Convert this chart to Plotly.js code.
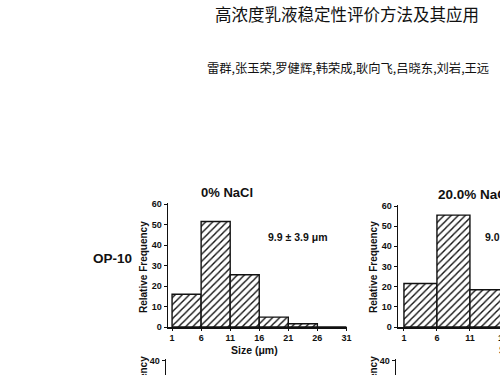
<!DOCTYPE html>
<html>
<head>
<meta charset="utf-8">
<script src="https://cdn.plot.ly/plotly-3.0.1.min.js"></script>
<style>
html,body{margin:0;padding:0;overflow:hidden;background:#fff;width:500px;height:375px;}
#chart{width:540px;height:420px;}
</style>
</head>
<body>
<div id="chart"></div>
<script>
// ---- data ----
const binStarts0 = [1, 6, 11, 16, 21, 26];           // size bins (µm), left edges
const freq0 = [16, 51.5, 25.5, 4.8, 1.6, 0];          // 0% NaCl, OP-10
const binStarts20 = [1, 6, 11];                      // visible bins, 20% NaCl
const freq20 = [21.6, 55.5, 18.5];                   // 20.0% NaCl, OP-10
const xTicks = [1, 6, 11, 16, 21, 26, 31];
const yTicks = [0, 10, 20, 30, 40, 50, 60];
const yTicksLower = [0, 10, 20, 30, 40];
const mainTitle = "高浓度乳液稳定性评价方法及其应用";
const authors = "雷群,张玉荣,罗健辉,韩荣成,耿向飞,吕晓东,刘岩,王远";
const panelTitles = ["0% NaCl", "20.0% NaCl"];
const meanLabels = ["9.9 ± 3.9 μm", "9.0 ± 3.6 μm"];
const rowLabel = "OP-10";

// ---- layout helpers (pixel -> paper) ----
const W = 540, H = 420;
const px = v => v / W;
const py = v => 1 - v / H;

const FONT = "Liberation Sans, Arial, sans-serif";
const tickFont = {family: FONT, size: 9, color: "#111", weight: "bold"};
const hatch = {shape: "/", fgcolor: "#111", bgcolor: "#fff", size: 5, solidity: 0.28};

function bars(x, y, xa, ya) {
  return {
    type: "bar", x: x, y: y, width: 5, offset: 0,
    xaxis: xa, yaxis: ya,
    marker: {color: "#fff", pattern: hatch, line: {color: "#111", width: 1.4}},
    hoverinfo: "skip", showlegend: false
  };
}

const traces = [
  bars(binStarts0, freq0, "x", "y"),
  bars(binStarts20, freq20, "x2", "y2"),
  {type: "bar", x: [], y: [], xaxis: "x3", yaxis: "y3", showlegend: false},
  {type: "bar", x: [], y: [], xaxis: "x4", yaxis: "y4", showlegend: false}
];

function xAxis(domain, range, anchor, visible) {
  return {
    domain: domain, range: range, anchor: anchor, visible: visible,
    tickmode: "array", tickvals: xTicks, ticktext: xTicks.map(String),
    showline: true, linecolor: "#111", linewidth: 1.5,
    ticks: "outside", ticklen: 2, tickwidth: 1, tickcolor: "#111",
    showgrid: false, zeroline: false, tickfont: tickFont, fixedrange: true
  };
}
function yAxis(domain, range, anchor, vals) {
  return {
    domain: domain, range: range, anchor: anchor,
    tickmode: "array", tickvals: vals, ticktext: vals.map(String),
    showline: true, linecolor: "#111", linewidth: 1.5,
    ticks: "outside", ticklen: 3, tickwidth: 1, tickcolor: "#111",
    showgrid: false, zeroline: false, tickfont: tickFont, fixedrange: true
  };
}

function ann(text, x, y, size, opts) {
  return Object.assign({
    text: text, xref: "paper", yref: "paper", x: px(x), y: py(y),
    xanchor: "center", yanchor: "middle", showarrow: false,
    font: {family: FONT, size: size, color: "#111", weight: "bold"}
  }, opts || {});
}

const layout = {
  width: W, height: H,
  margin: {l: 0, r: 0, t: 0, b: 0},
  paper_bgcolor: "#fff", plot_bgcolor: "rgba(0,0,0,0)",
  bargap: 0,
  xaxis: xAxis([px(168), px(347)], [0.3, 31.1], "y", true),
  yaxis: yAxis([py(327), py(203)], [0, 60.5], "x", yTicks),
  xaxis2: xAxis([px(398), 1], [0.1, 0.1 + (W - 398) / 6.6], "y2", true),
  yaxis2: yAxis([py(327), py(205)], [0, 60.5], "x2", yTicks),
  xaxis3: xAxis([px(166), px(347)], [0.3, 31.1], "y3", false),
  yaxis3: yAxis([0, py(359)], [40.5 - (H - 359) / 3.05, 40.5], "x3", yTicksLower),
  xaxis4: xAxis([px(396), 1], [0.1, 21], "y4", false),
  yaxis4: yAxis([0, py(359)], [40.5 - (H - 359) / 3.05, 40.5], "x4", yTicksLower),
  annotations: [
    ann(mainTitle, 347, 14, 16.5, {font: {family: "Noto Sans CJK SC", size: 16.5, color: "#111"}}),
    ann(authors, 347.5, 68, 12.3, {font: {family: "Noto Sans CJK SC", size: 12.3, color: "#111"}}),
    ann(panelTitles[0], 227, 193, 13),
    ann(panelTitles[1], 436, 194, 13.5, {xanchor: "left"}),
    ann(meanLabels[0], 297, 237, 10.5),
    ann(meanLabels[1], 483, 237, 10.5, {xanchor: "left"}),
    ann(rowLabel, 112, 258, 13.5),
    ann("Relative Frequency", 143, 267, 10, {textangle: -90}),
    ann("Relative Frequency", 373, 267, 10, {textangle: -90}),
    ann("Relative Frequency", 143, 402, 10, {textangle: -90}),
    ann("Relative Frequency", 373, 402, 10, {textangle: -90}),
    ann("Size (μm)", 254, 350, 10.5),
    ann("Size (μm)", 497, 350, 10.5, {xanchor: "left"})
  ]
};

Plotly.newPlot("chart", traces, layout, {staticPlot: true, displayModeBar: false});
</script>
</body>
</html>
